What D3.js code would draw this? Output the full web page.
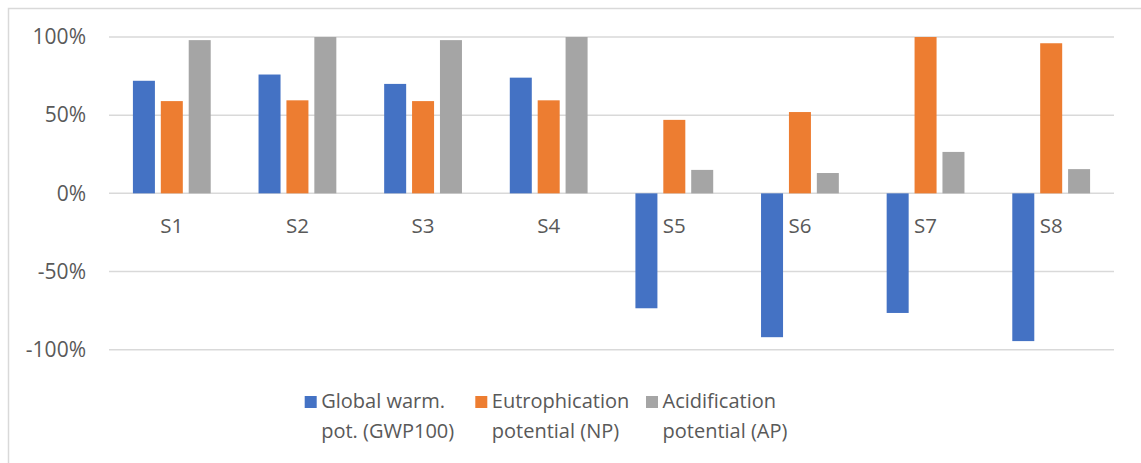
<!DOCTYPE html>
<html>
<head>
<meta charset="utf-8">
<title>Impact potentials</title>
<script src="https://cdn.jsdelivr.net/npm/d3@7"></script>
<style>
  body, html { margin: 0; background: #fff; overflow: hidden; }
  text { font-family: "Open Sans", "Noto Sans", sans-serif; fill: #595959; }
</style>
</head>
<body>
<div id="chart"></div>
<script>
// data
var scenarios = ["S1", "S2", "S3", "S4", "S5", "S6", "S7", "S8"];
var seriesNames = ["Global warm. pot. (GWP100)", "Eutrophication potential (NP)", "Acidification potential (AP)"];
var legendLines = [["Global warm.", "pot. (GWP100)"], ["Eutrophication", "potential (NP)"], ["Acidification", "potential (AP)"]];
var gwp = [72, 76, 70, 74, -73.5, -92, -76.5, -94.5];
var np  = [59, 59.5, 59, 59.5, 47, 52, 100, 96];
var ap  = [98, 100, 98, 100, 15, 13, 26.5, 15.5];
var yTicks = [-100, -50, 0, 50, 100];
var colors = ["#4472C4", "#ED7D31", "#A5A5A5"];

var w = 1141, h = 463;
var plot = { left: 109, right: 1114, top: 37, bottom: 349.7 };

var svg = d3.select("#chart").append("svg")
  .attr("width", w)
  .attr("height", h);

// chart border
svg.append("rect")
  .attr("x", 8.5).attr("y", 8.5)
  .attr("width", w + 20).attr("height", h + 20)
  .attr("fill", "none")
  .attr("stroke", "#d9d9d9")
  .attr("stroke-width", 1.5);

var x = d3.scaleBand()
  .domain(scenarios)
  .range([plot.left, plot.right]);

var y = d3.scaleLinear()
  .domain([-100, 100])
  .range([plot.bottom, plot.top]);

// gridlines
svg.append("g").selectAll("line").data(yTicks)
  .enter().append("line")
  .attr("x1", plot.left).attr("x2", plot.right)
  .attr("y1", function (d) { return y(d); })
  .attr("y2", function (d) { return y(d); })
  .attr("stroke", "#d9d9d9")
  .attr("stroke-width", 1.5);

// y axis labels
var yAxis = d3.axisLeft(y)
  .tickValues(yTicks)
  .tickSize(0)
  .tickPadding(0)
  .tickFormat(function (d) { return d + "%"; });

var gy = svg.append("g")
  .attr("transform", "translate(86,0)")
  .call(yAxis);
gy.select(".domain").remove();
gy.selectAll("text")
  .attr("font-size", 21)
  .attr("font-family", null)
  .attr("fill", "#595959");

// bars
var barW = 22, barStep = 27.9;
var series = [gwp, np, ap];
var bars = svg.append("g");
series.forEach(function (vals, si) {
  bars.selectAll(".s" + si).data(vals)
    .enter().append("rect")
    .attr("class", "s" + si)
    .attr("x", function (d, i) {
      return x(scenarios[i]) + x.bandwidth() / 2 + (si - 1) * barStep - barW / 2;
    })
    .attr("y", function (d) { return y(Math.max(0, d)); })
    .attr("width", barW)
    .attr("height", function (d) { return Math.abs(y(d) - y(0)); })
    .attr("fill", colors[si]);
});

// category labels
svg.append("g").selectAll("text").data(scenarios)
  .enter().append("text")
  .attr("x", function (d) { return x(d) + x.bandwidth() / 2; })
  .attr("y", 225.5)
  .attr("dy", "0.35em")
  .attr("text-anchor", "middle")
  .attr("font-size", 20.5)
  .text(function (d) { return d; });

// legend
var legendX = [304.7, 475.3, 646];
var legend = svg.append("g");
seriesNames.forEach(function (name, i) {
  var g = legend.append("g").attr("transform", "translate(" + legendX[i] + ",0)");
  g.append("rect")
    .attr("x", 0).attr("y", 396)
    .attr("width", 12).attr("height", 12)
    .attr("fill", colors[i]);
  legendLines[i].forEach(function (line, j) {
    g.append("text")
      .attr("x", 16.5)
      .attr("y", 400.7 + j * 30)
      .attr("dy", "0.35em")
      .attr("font-size", 20)
      .text(line);
  });
});
</script>
</body>
</html>
